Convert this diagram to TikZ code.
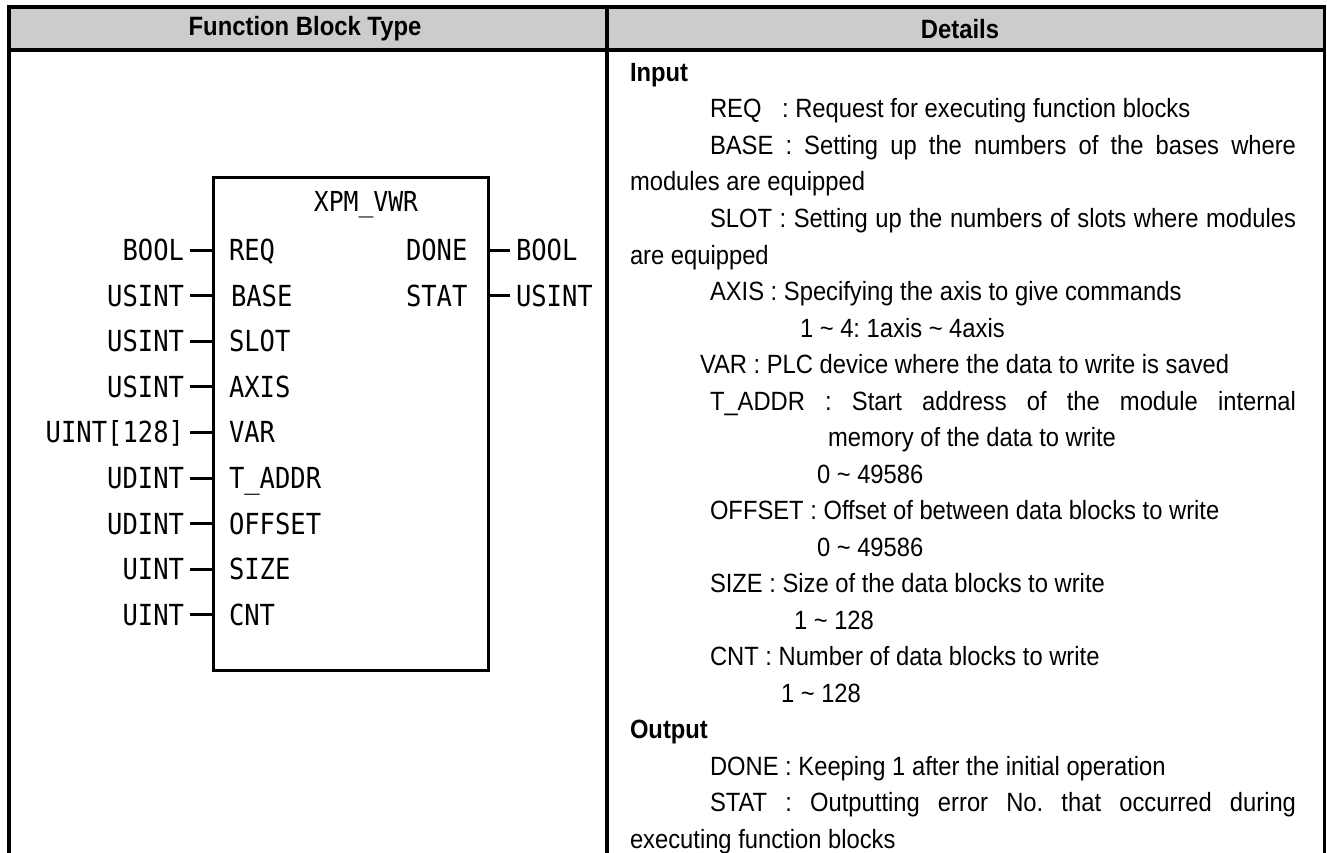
\documentclass[tikz,border=0pt]{standalone}
\usepackage{fontspec}
\setmainfont{Liberation Sans}[FakeStretch=0.9]
\newfontfamily\pinfont[FakeStretch=0.88]{DejaVu Sans Mono}
\newfontfamily\titlefont[FakeStretch=0.9]{DejaVu Sans Mono}
\usetikzlibrary{positioning}

\newcommand{\jline}[1]{\makebox[586pt][s]{#1}}
\frenchspacing

\begin{document}
\begin{tikzpicture}[
    x=1pt, y=-1pt,
    every node/.style={inner sep=0pt, outer sep=0pt},
    grid/.style={line width=3.5pt},
    hdr/.style={font=\bfseries\fontsize{26.5}{30}\selectfont},
    txt/.style={anchor=base west, font=\fontsize{26.4}{30}\selectfont},
    sect/.style={anchor=base west, font=\bfseries\fontsize{26.4}{30}\selectfont},
    pinf/.style={text height=21.1pt, text depth=0pt, font=\pinfont\fontsize{29}{30}\selectfont},
    typ/.style={pinf, anchor=east, inner xsep=6pt},
    otyp/.style={pinf, anchor=west, inner xsep=6pt},
    pinl/.style={pinf, anchor=west},
    wire/.style={line width=3pt}
]
\useasboundingbox (0,0) rectangle (1327,853);

% Tableau
\fill[gray!40] (9,7) rectangle (1324.5,50);
\draw[grid] (9,7) -- (1324.5,7);
\draw[grid] (9,50) -- (1324.5,50);
\draw[grid] (9,5.25) -- (9,853);
\draw[grid] (607,5.25) -- (607,853);
\draw[grid] (1324.5,5.25) -- (1324.5,853);
\node[hdr] (hfb) at (305,29) {Function Block Type};
\node[hdr] (hdet) at (960,29) {Details};

% Bloc fonction
\node[draw, line width=3pt, minimum width=275pt, minimum height=492pt] (fb) at (350.5,424) {};
\node[font=\titlefont\fontsize{27.5}{30}\selectfont] (title) at (366,205) {XPM\_VWR};

% Entrées
\node[typ] (tREQ) at (190,250) {BOOL};
\node[typ] (tBASE) at (190,295.6) {USINT};
\node[typ] (tSLOT) at (190,341.2) {USINT};
\node[typ] (tAXIS) at (190,386.8) {USINT};
\node[typ] (tVAR) at (190,432.4) {UINT[128]};
\node[typ] (tTADDR) at (190,478) {UDINT};
\node[typ] (tOFFSET) at (190,523.6) {UDINT};
\node[typ] (tSIZE) at (190,569.2) {UINT};
\node[typ] (tCNT) at (190,614.8) {UINT};

\node[pinl] (REQ) at (229,250) {REQ};
\node[pinl] (BASE) at (231,295.6) {BASE};
\node[pinl] (SLOT) at (229,341.2) {SLOT};
\node[pinl] (AXIS) at (229,386.8) {AXIS};
\node[pinl] (VAR) at (229,432.4) {VAR};
\node[pinl] (TADDR) at (229,478) {T\_ADDR};
\node[pinl] (OFFSET) at (229,523.6) {OFFSET};
\node[pinl] (SIZE) at (229,569.2) {SIZE};
\node[pinl] (CNT) at (229,614.8) {CNT};

\draw[wire] (tREQ.east) -- (tREQ.east -| fb.west);
\draw[wire] (tBASE.east) -- (tBASE.east -| fb.west);
\draw[wire] (tSLOT.east) -- (tSLOT.east -| fb.west);
\draw[wire] (tAXIS.east) -- (tAXIS.east -| fb.west);
\draw[wire] (tVAR.east) -- (tVAR.east -| fb.west);
\draw[wire] (tTADDR.east) -- (tTADDR.east -| fb.west);
\draw[wire] (tOFFSET.east) -- (tOFFSET.east -| fb.west);
\draw[wire] (tSIZE.east) -- (tSIZE.east -| fb.west);
\draw[wire] (tCNT.east) -- (tCNT.east -| fb.west);

% Sorties
\node[pinl] (DONE) at (406,250) {DONE};
\node[pinl] (STAT) at (406,295.6) {STAT};
\node[otyp] (tDONE) at (510,250) {BOOL};
\node[otyp] (tSTAT) at (510,295.6) {USINT};
\draw[wire] (tDONE.west) -- (tDONE.west -| fb.east);
\draw[wire] (tSTAT.west) -- (tSTAT.west -| fb.east);

% Détails
\node[sect] (in) at (630,81.5) {Input};
\node[txt] (dreq) at (710,118) {REQ\hspace{14pt} : Request for executing function blocks};
\node[txt] (dbase) at (710,154.5) {\jline{BASE : Setting up the numbers of the bases where}};
\node[txt] (dbase2) at (630,191) {modules are equipped};
\node[txt] (dslot) at (710,227.5) {\jline{SLOT : Setting up the numbers of slots where modules}};
\node[txt] (dslot2) at (630,264) {are equipped};
\node[txt] (daxis) at (710,300.5) {AXIS : Specifying the axis to give commands};
\node[txt] (daxis2) at (800,337) {1 \textasciitilde{} 4: 1axis \textasciitilde{} 4axis};
\node[txt] (dvar) at (700,373.5) {VAR : PLC device where the data to write is saved};
\node[txt] (dtaddr) at (710,410) {\jline{T\_ADDR : Start address of the module internal}};
\node[txt] (dtaddr2) at (828,446.5) {memory of the data to write};
\node[txt] (dtaddr3) at (817,483) {0 \textasciitilde{} 49586};
\node[txt] (doffset) at (710,519.5) {OFFSET : Offset of between data blocks to write};
\node[txt] (doffset2) at (817,556) {0 \textasciitilde{} 49586};
\node[txt] (dsize) at (710,592.5) {SIZE : Size of the data blocks to write};
\node[txt] (dsize2) at (794,629) {1 \textasciitilde{} 128};
\node[txt] (dcnt) at (710,665.5) {CNT : Number of data blocks to write};
\node[txt] (dcnt2) at (781,702) {1 \textasciitilde{} 128};
\node[sect] (out) at (630,738.5) {Output};
\node[txt] (ddone) at (710,775) {DONE : Keeping 1 after the initial operation};
\node[txt] (dstat) at (710,811.5) {\jline{STAT : Outputting error No. that occurred during}};
\node[txt] (dstat2) at (630,848) {executing function blocks};

\end{tikzpicture}
\end{document}
